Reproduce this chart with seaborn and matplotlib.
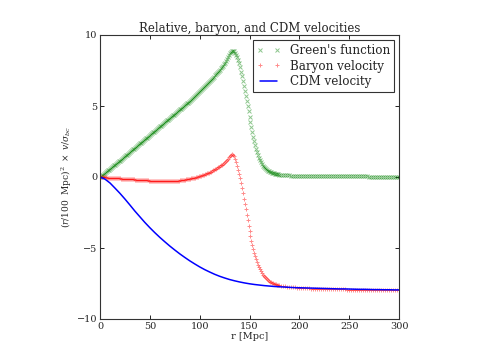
import numpy as np
import pandas as pd
import matplotlib
matplotlib.use("Agg")
import matplotlib.pyplot as plt
import seaborn as sns

# ---- data ----
r_lo = list(range(0, 121, 1))
r_mid = list(range(121, 181, 1))
r_hi = list(range(182, 301, 2))
r_grid = r_lo + r_mid + r_hi

green_lo = [0.00, 0.06, 0.11, 0.17, 0.23, 0.28, 0.34, 0.40, 0.46, 0.51,
            0.57, 0.63, 0.69, 0.75, 0.81, 0.86, 0.92, 0.98, 1.04, 1.10,
            1.16, 1.22, 1.28, 1.34, 1.40, 1.46, 1.52, 1.58, 1.64, 1.70,
            1.76, 1.82, 1.88, 1.94, 2.00, 2.06, 2.12, 2.18, 2.24, 2.30,
            2.36, 2.42, 2.48, 2.54, 2.60, 2.66, 2.72, 2.78, 2.84, 2.90,
            2.96, 3.02, 3.08, 3.14, 3.20, 3.26, 3.32, 3.38, 3.44, 3.50,
            3.56, 3.62, 3.68, 3.74, 3.80, 3.86, 3.92, 3.98, 4.04, 4.10,
            4.16, 4.22, 4.28, 4.34, 4.40, 4.46, 4.52, 4.58, 4.64, 4.70,
            4.76, 4.82, 4.88, 4.94, 5.00, 5.06, 5.12, 5.18, 5.24, 5.30,
            5.37, 5.43, 5.50, 5.56, 5.63, 5.69, 5.76, 5.83, 5.90, 5.97,
            6.04, 6.11, 6.18, 6.25, 6.32, 6.39, 6.46, 6.53, 6.61, 6.68,
            6.76, 6.83, 6.91, 6.99, 7.07, 7.15, 7.23, 7.31, 7.40, 7.48,
            7.57]
green_mid = [7.66, 7.75, 7.85, 7.95, 8.06, 8.17, 8.29, 8.42, 8.56, 8.70,
             8.82, 8.90, 8.90, 8.85, 8.75, 8.60, 8.42, 8.22, 8.00, 7.75,
             7.42, 7.08, 6.74, 6.40, 6.06, 5.72, 5.36, 5.00, 4.62, 4.25,
             3.88, 3.52, 3.17, 2.84, 2.53, 2.24, 1.97, 1.73, 1.52, 1.33,
             1.17, 1.03, 0.91, 0.80, 0.71, 0.63, 0.56, 0.50, 0.45, 0.40,
             0.36, 0.33, 0.30, 0.27, 0.25, 0.23, 0.21, 0.20, 0.18, 0.17]
green_hi = [0.15, 0.14, 0.13, 0.12, 0.11, 0.10, 0.10, 0.09, 0.09, 0.08,
            0.08, 0.07, 0.07, 0.07, 0.06, 0.06, 0.06, 0.06, 0.05, 0.05,
            0.05, 0.05, 0.05, 0.05, 0.05, 0.05, 0.04, 0.04, 0.04, 0.04,
            0.04, 0.04, 0.04, 0.04, 0.04, 0.04, 0.04, 0.04, 0.04, 0.04,
            0.04, 0.04, 0.04, 0.04, 0.03, 0.03, 0.03, 0.03, 0.03, 0.03,
            0.03, 0.03, 0.03, 0.03, 0.03, 0.03, 0.03, 0.03, 0.03, 0.03]

baryon_lo = [0.00, -0.01, -0.01, -0.02, -0.02, -0.03, -0.03, -0.04, -0.04, -0.05,
             -0.05, -0.06, -0.06, -0.07, -0.07, -0.08, -0.08, -0.09, -0.09, -0.10,
             -0.10, -0.11, -0.11, -0.12, -0.12, -0.13, -0.13, -0.14, -0.14, -0.15,
             -0.15, -0.16, -0.16, -0.17, -0.17, -0.18, -0.18, -0.19, -0.19, -0.20,
             -0.20, -0.21, -0.21, -0.22, -0.22, -0.23, -0.23, -0.24, -0.24, -0.25,
             -0.25, -0.26, -0.26, -0.27, -0.27, -0.27, -0.27, -0.28, -0.28, -0.28,
             -0.28, -0.29, -0.29, -0.29, -0.29, -0.29, -0.29, -0.29, -0.29, -0.29,
             -0.29, -0.29, -0.28, -0.28, -0.28, -0.28, -0.27, -0.27, -0.26, -0.25,
             -0.24, -0.23, -0.22, -0.21, -0.20, -0.19, -0.17, -0.16, -0.14, -0.13,
             -0.11, -0.10, -0.08, -0.07, -0.05, -0.04, -0.02, 0.00, 0.02, 0.04,
             0.06, 0.08, 0.11, 0.13, 0.16, 0.19, 0.22, 0.25, 0.28, 0.31,
             0.35, 0.38, 0.42, 0.46, 0.50, 0.54, 0.58, 0.62, 0.67, 0.72,
             0.77]
baryon_mid = [0.82, 0.87, 0.93, 0.99, 1.06, 1.13, 1.21, 1.30, 1.40, 1.50,
              1.58, 1.62, 1.58, 1.45, 1.27, 1.05, 0.80, 0.52, 0.22, -0.10,
              -0.44, -0.79, -1.15, -1.52, -1.90, -2.28, -2.66, -3.05, -3.45, -3.82,
              -4.17, -4.50, -4.80, -5.07, -5.32, -5.56, -5.78, -5.99, -6.18, -6.35,
              -6.50, -6.64, -6.76, -6.87, -6.97, -7.06, -7.14, -7.21, -7.27, -7.32,
              -7.37, -7.41, -7.45, -7.48, -7.51, -7.54, -7.56, -7.58, -7.60, -7.62]
baryon_hi = [-7.65, -7.68, -7.70, -7.72, -7.74, -7.76, -7.77, -7.78, -7.79, -7.80,
             -7.81, -7.82, -7.83, -7.84, -7.85, -7.86, -7.86, -7.87, -7.87, -7.88,
             -7.88, -7.89, -7.89, -7.90, -7.90, -7.90, -7.91, -7.91, -7.91, -7.92,
             -7.92, -7.92, -7.92, -7.93, -7.93, -7.93, -7.93, -7.94, -7.94, -7.94,
             -7.94, -7.94, -7.94, -7.95, -7.95, -7.95, -7.95, -7.95, -7.95, -7.95,
             -7.95, -7.96, -7.96, -7.96, -7.96, -7.96, -7.96, -7.96, -7.96, -7.96]

r_cdm = list(range(0, 301, 5))
v_cdm = [0.00, -0.15, -0.42, -0.78, -1.15, -1.55, -1.97, -2.40, -2.80, -3.20,
         -3.57, -3.92, -4.25, -4.56, -4.86, -5.14, -5.41, -5.66, -5.90, -6.12,
         -6.33, -6.52, -6.69, -6.85, -6.99, -7.11, -7.22, -7.31, -7.39, -7.46,
         -7.52, -7.57, -7.61, -7.65, -7.68, -7.71, -7.73, -7.75, -7.77, -7.79,
         -7.80, -7.81, -7.82, -7.83, -7.84, -7.85, -7.86, -7.87, -7.88, -7.88,
         -7.89, -7.90, -7.91, -7.91, -7.92, -7.93, -7.93, -7.94, -7.94, -7.95,
         -7.95]

x_ticks = [0, 50, 100, 150, 200, 250, 300]
y_ticks = [-10, -5, 0, 5, 10]

labels = ["Green's function", "Baryon velocity", "CDM velocity"]

# ---- style ----
sns.set_style("ticks", {"xtick.direction": "in", "ytick.direction": "in",
                        "axes.edgecolor": "black"})
plt.rcParams["font.family"] = ["DejaVu Serif"]
plt.rcParams["mathtext.fontset"] = "dejavuserif"

df_g = pd.DataFrame({"r": r_grid, "v": green_lo + green_mid + green_hi})
df_b = pd.DataFrame({"r": r_grid, "v": baryon_lo + baryon_mid + baryon_hi})
df_c = pd.DataFrame({"r": r_cdm, "v": v_cdm})

fig = plt.figure(figsize=(4.98, 3.55), dpi=100)
ax = fig.add_axes([100 / 498, 36 / 355, 299 / 498, 284 / 355])

sns.lineplot(data=df_g, x="r", y="v", ax=ax, linestyle="", marker="x",
             color="green", markeredgecolor="green", markersize=2.6,
             markeredgewidth=0.7, alpha=0.45, label=labels[0])
sns.lineplot(data=df_b, x="r", y="v", ax=ax, linestyle="", marker="+",
             color="red", markeredgecolor="red", markersize=3.2,
             markeredgewidth=0.7, alpha=0.45, label=labels[1])
sns.lineplot(data=df_c, x="r", y="v", ax=ax, color="blue", linewidth=1.1,
             label=labels[2])

ax.set_xlim(0, 300)
ax.set_ylim(-10, 10)
ax.set_xticks(x_ticks)
ax.set_yticks(y_ticks)
ax.tick_params(top=True, right=True, direction="in", length=3, width=0.6,
               pad=2, labelsize=7, color="black")
for s in ax.spines.values():
    s.set_linewidth(0.8)
    s.set_color("#333333")

ax.set_title("Relative, baryon, and CDM velocities", fontsize=8.5, pad=2)
ax.set_xlabel("r [Mpc]", fontsize=7, labelpad=1)
ax.set_ylabel(r"$(r/100\ \ \mathrm{Mpc})^2\ \times\ v/\sigma_{bc}$",
              fontsize=6.5, labelpad=2)

leg = ax.legend(loc="upper right", numpoints=2, fontsize=8.6, frameon=True,
                fancybox=False, borderaxespad=0.45, handlelength=2.0,
                borderpad=0.3, labelspacing=0.22, handletextpad=0.8)
leg.get_frame().set_edgecolor("black")
leg.get_frame().set_linewidth(0.8)

fig.savefig("out.png", dpi=100)
